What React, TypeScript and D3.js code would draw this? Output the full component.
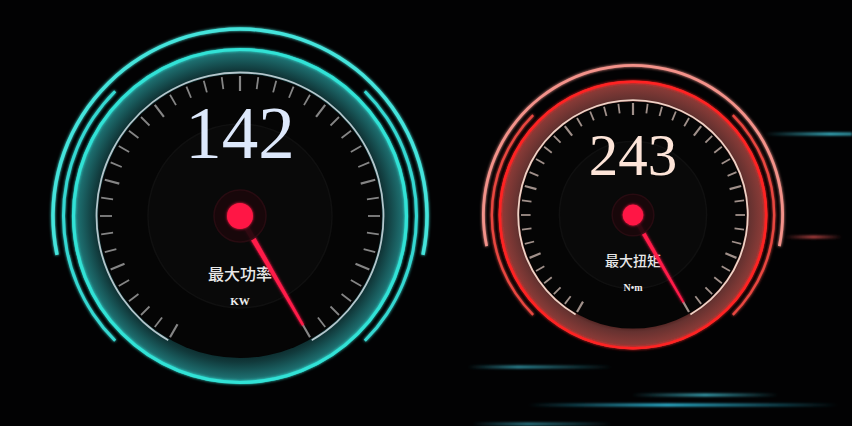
import React from 'react';
import * as d3 from 'd3';

// gauge data
const gaugeNames = ['最大功率', '最大扭矩'];
const gaugeUnits = ['KW', 'N•m'];
const gaugeValues = [142, 243];
const gaugeMin = [0, 0];
const gaugeMax = [142, 243];
const tickCount = 40;
const majorEvery = 5;

const W = 852;
const H = 426;
const DEG = Math.PI / 180;

// layout per gauge
const centers = [
  { cx: 240, cy: 216, s: 1 },
  { cx: 633, cy: 215, s: 0.8 }
];
const numberStyle = [
  { dy: -58, size: 73 },
  { dy: -40, size: 59 }
];
const labelStyle = [
  { dy: 64, size: 16, unitDy: 89, unitSize: 11 },
  { dy: 51, size: 14, unitDy: 76, unitSize: 10 }
];

const themes = [
  {
    outer: '#44e4dc',
    inner: '#36d8d2',
    edge: '#30e2d6',
    bandIn: '#081e20',
    bandMid: '#11393b',
    bandOut: '#1f7677',
    ring: '#b4c6cc',
    tick: '#858585',
    number: '#dde8fb'
  },
  {
    outer: '#f3928a',
    inner: '#e8463f',
    edge: '#ff2424',
    bandIn: '#341412',
    bandMid: '#663230',
    bandOut: '#8e3c38',
    ring: '#efd2c6',
    tick: '#a0908a',
    number: '#fde4d8'
  }
];

// horizontal glow streaks in the background
const streaks = [
  { x1: 765, x2: 852, y: 134, color: '#3ab6c8', peak: 0.75 },
  { x1: 785, x2: 842, y: 237, color: '#b84444', peak: 0.5 },
  { x1: 468, x2: 612, y: 367, color: '#2f8e9e', peak: 0.35 },
  { x1: 632, x2: 778, y: 395, color: '#3aa6b6', peak: 0.5 },
  { x1: 528, x2: 838, y: 405, color: '#2fbede', peak: 0.45 },
  { x1: 472, x2: 612, y: 424, color: '#2a7a88', peak: 0.4 }
];

const polar = (a: number, r: number): [number, number] => [r * Math.sin(a), -r * Math.cos(a)];

const Gauge: React.FC<{ i: number }> = ({ i }) => {
  const { cx, cy, s } = centers[i];
  const t = themes[i];
  const angle = d3.scaleLinear()
    .domain([gaugeMin[i], gaugeMax[i]])
    .range([-150 * DEG, 150 * DEG]);

  const arc = d3.arc<any>();
  const ringArc = (r: number, w: number, a0: number, a1: number) =>
    arc({ innerRadius: r - w / 2, outerRadius: r + w / 2, startAngle: a0 * DEG, endAngle: a1 * DEG }) || '';

  const ticks = d3.range(tickCount + 1).map(k => gaugeMin[i] + (gaugeMax[i] - gaugeMin[i]) * k / tickCount);

  const a = angle(gaugeValues[i]);
  const tipR = 126 * s;
  const baseW = 2.8 * s;
  const tipW = 1.3 * s;
  const [ux, uy] = polar(a, 1);
  const px = -uy, py = ux;
  const needle = [
    [px * baseW, py * baseW],
    [ux * tipR + px * tipW, uy * tipR + py * tipW],
    [ux * tipR - px * tipW, uy * tipR - py * tipW],
    [-px * baseW, -py * baseW]
  ].map(p => p.join(',')).join(' ');

  const gid = `band${i}`;

  return (
    <g transform={`translate(${cx},${cy})`}>
      <defs>
        <radialGradient id={gid} gradientUnits="userSpaceOnUse" cx={0} cy={0} r={168 * s}>
          <stop offset="0.8" stopColor={t.bandIn} />
          <stop offset="0.87" stopColor={t.bandMid} />
          <stop offset="0.98" stopColor={t.bandOut} />
        </radialGradient>
      </defs>

      {/* outer decorative arcs */}
      <path d={ringArc(187 * s, 3.5 * s, -102, 102)} fill={t.outer} filter="url(#glow)" />
      <path d={ringArc(176.5 * s, 3 * s, -135, -45)} fill={t.inner} filter="url(#glow)" />
      <path d={ringArc(176.5 * s, 3 * s, 45, 135)} fill={t.inner} filter="url(#glow)" />

      {/* gradient band */}
      <circle r={168 * s} fill={`url(#${gid})`} />
      <circle r={166.5 * s} fill="none" stroke={t.edge} strokeWidth={3.2 * s} filter="url(#glow)" />

      {/* dial face */}
      <circle r={142 * s} fill="#050505" />
      <circle r={92 * s} fill="#090909" stroke="#101010" strokeWidth={1.5} />
      <path d={ringArc(143.5 * s, 1.8, -150, 150)} fill={t.ring} />

      {ticks.map((v, k) => {
        const major = k % majorEvery === 0;
        const [x1, y1] = polar(angle(v), 140 * s);
        const [x2, y2] = polar(angle(v), (major ? 125 : 128) * s);
        return (
          <line key={k} x1={x1} y1={y1} x2={x2} y2={y2}
            stroke={t.tick} strokeWidth={major ? 2.2 : 1.8} />
        );
      })}

      <text y={numberStyle[i].dy} textAnchor="middle" fontFamily="'Liberation Serif', serif"
        fontSize={numberStyle[i].size} fill={t.number}>
        {gaugeValues[i]}
      </text>
      <text y={labelStyle[i].dy} textAnchor="middle" fontFamily="'Noto Sans CJK SC', sans-serif"
        fontSize={labelStyle[i].size} fontWeight={500} fill="#e8e8e8">
        {gaugeNames[i]}
      </text>
      <text y={labelStyle[i].unitDy} textAnchor="middle" fontFamily="'Liberation Serif', 'Noto Sans CJK SC', serif"
        fontSize={labelStyle[i].unitSize} fontWeight="bold" fill="#eeeeee">
        {gaugeUnits[i]}
      </text>

      {/* needle and hub */}
      <polygon points={needle} fill="#ff1a48" filter="url(#glowSoft)" />
      <circle r={26 * s} fill="#1a070b" stroke="#2c0c12" strokeWidth={1.5} opacity={0.9} />
      <circle r={13 * s} fill="#ff1744" filter="url(#glowSoft)" />
    </g>
  );
};

export default function App() {
  return (
    <svg width={W} height={H} style={{ position: 'fixed', left: 0, top: 0, display: 'block' }}>
      <defs>
        <filter id="glow" x="-20%" y="-20%" width="140%" height="140%">
          <feGaussianBlur stdDeviation="1.6" result="b" />
          <feMerge>
            <feMergeNode in="b" />
            <feMergeNode in="SourceGraphic" />
          </feMerge>
        </filter>
        <filter id="glowSoft" x="-50%" y="-50%" width="200%" height="200%">
          <feGaussianBlur stdDeviation="1.5" result="b" />
          <feMerge>
            <feMergeNode in="b" />
            <feMergeNode in="SourceGraphic" />
          </feMerge>
        </filter>
        <filter id="blurLine" x="-10%" y="-300%" width="120%" height="700%">
          <feGaussianBlur stdDeviation="1.2" />
        </filter>
        {streaks.map((d, k) => (
          <linearGradient key={k} id={`streak${k}`} x1="0" x2="1" y1="0" y2="0">
            <stop offset="0" stopColor={d.color} stopOpacity={0} />
            <stop offset={d.peak} stopColor={d.color} stopOpacity={1} />
            <stop offset="1" stopColor={d.color} stopOpacity={d.x2 >= W ? 0.8 : 0} />
          </linearGradient>
        ))}
      </defs>

      <rect width={W} height={H} fill="#020203" />

      {streaks.map((d, k) => (
        <rect key={k} x={d.x1} y={d.y - 1.5} width={d.x2 - d.x1} height={3}
          fill={`url(#streak${k})`} filter="url(#blurLine)" />
      ))}

      {centers.map((_, i) => <Gauge key={i} i={i} />)}
    </svg>
  );
}
